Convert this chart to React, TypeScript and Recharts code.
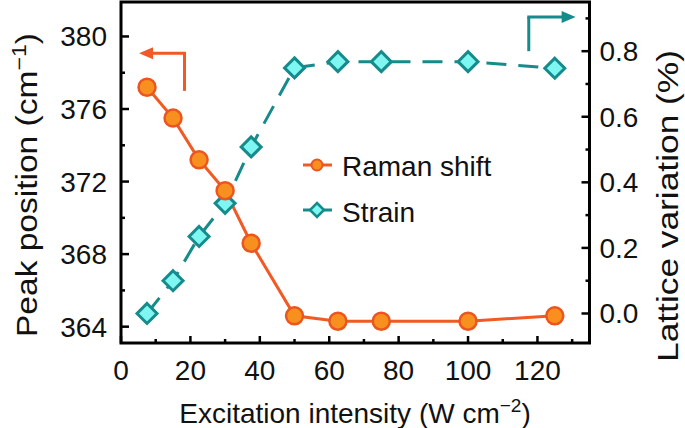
import React from 'react';
import { LineChart, Line, XAxis, YAxis, ReferenceArea, ReferenceLine, Legend } from 'recharts';

const FONT = '"Liberation Sans", Arial, Helvetica, sans-serif';

// Data
const intensity = [7.5, 15, 22.5, 30, 37.5, 50, 62.5, 75, 100, 125];
const ramanShift = [377.2, 375.5, 373.2, 371.5, 368.6, 364.6, 364.3, 364.3, 364.3, 364.6];
const strainPct = [0.0, 0.1, 0.235, 0.336, 0.508, 0.749, 0.768, 0.768, 0.768, 0.748];

const xTicks = [0, 10, 20, 30, 40, 50, 60, 70, 80, 90, 100, 110, 120, 130];
const leftTicks = [364, 366, 368, 370, 372, 374, 376, 378, 380];
const rightTicks = [0, 0.1, 0.2, 0.3, 0.4, 0.5, 0.6, 0.7, 0.8, 0.9];

const xDomain = [0, 135];
const leftDomain = [363.1, 381.9];
const rightDomain = [-0.09, 0.95];

// arrow annotations (data coordinates)
const ramanArrowUp = [{ x: 18.3, y: 377.0 }, { x: 18.3, y: 379.08 }];
const ramanArrowLeft = [{ x: 18.3, y: 379.08 }, { x: 5.2, y: 379.08 }];
const strainArrowUp = [{ x: 117.5, y: 0.8 }, { x: 117.5, y: 0.904 }];
const strainArrowRight = [{ x: 117.5, y: 0.904 }, { x: 131, y: 0.904 }];

const data = intensity.map((x, i) => ({ x, raman: ramanShift[i], strain: strainPct[i] }));

const ORANGE_LINE = '#F05A24';
const ORANGE_FILL = '#F7901E';
const ORANGE_EDGE = '#EC5520';
const TEAL_LINE = '#178B8B';
const TEAL_FILL = '#7EF6F2';

const XTick = (props: any) => {
  const { x, y, payload } = props;
  const v = payload.value;
  const major = v % 20 === 0;
  return (
    <g>
      <line x1={x} x2={x} y1={y} y2={y - (major ? 7 : 4)} stroke="#000" strokeWidth={2.5} />
      {major && (
        <text x={x} y={y + 37} textAnchor="middle" fontFamily={FONT} fontSize={28} fill="#111">
          {v}
        </text>
      )}
    </g>
  );
};

const LeftTick = (props: any) => {
  const { x, y, payload } = props;
  const v = payload.value;
  const major = v % 4 === 0;
  return (
    <g>
      <line x1={x} x2={x + (major ? 8 : 4)} y1={y} y2={y} stroke="#000" strokeWidth={2.5} />
      {major && (
        <text x={x - 14} y={y + 10} textAnchor="end" fontFamily={FONT} fontSize={28} fill="#111">
          {v}
        </text>
      )}
    </g>
  );
};

const RightTick = (props: any) => {
  const { x, y, payload } = props;
  const v = payload.value;
  const major = Math.round(v * 10) % 2 === 0;
  return (
    <g>
      <line x1={x} x2={x - (major ? 8 : 4)} y1={y} y2={y} stroke="#000" strokeWidth={2.5} />
      {major && (
        <text x={x + 10} y={y + 10} textAnchor="start" fontFamily={FONT} fontSize={28} fill="#111">
          {v.toFixed(1)}
        </text>
      )}
    </g>
  );
};

const RamanDot = (props: any) => {
  const { cx, cy } = props;
  if (cx == null || cy == null) return null;
  return <circle cx={cx} cy={cy} r={8.5} fill={ORANGE_FILL} stroke={ORANGE_EDGE} strokeWidth={2.5} />;
};

const StrainDot = (props: any) => {
  const { cx, cy } = props;
  if (cx == null || cy == null) return null;
  const s = 10;
  return (
    <polygon
      points={`${cx},${cy - s} ${cx + s},${cy} ${cx},${cy + s} ${cx - s},${cy}`}
      fill={TEAL_FILL}
      stroke={TEAL_LINE}
      strokeWidth={3}
      strokeLinejoin="miter"
    />
  );
};

const makeSeg = (color: string, head: boolean) => (props: any) => {
  const { x1, y1, x2, y2 } = props;
  if (!head) {
    return <line x1={x1} y1={y1} x2={x2} y2={y2} stroke={color} strokeWidth={3} />;
  }
  const d = x2 > x1 ? 1 : -1;
  return (
    <g>
      <line x1={x1 - d * 1.5} y1={y1} x2={x2 - d * 10} y2={y2} stroke={color} strokeWidth={3} />
      <polygon points={`${x2},${y2} ${x2 - d * 14},${y2 - 6} ${x2 - d * 14},${y2 + 6}`} fill={color} />
    </g>
  );
};

const LeftTitle = (props: any) => (
  <text
    transform="translate(37,185) rotate(-90)"
    textAnchor="middle"
    fontFamily={FONT}
    fontSize={29}
    fill="#111"
    textLength={304}
    lengthAdjust="spacingAndGlyphs"
  >
    Peak position (cm
    <tspan dy={-11} fontSize={20}>−1</tspan>
    <tspan dy={11}>)</tspan>
  </text>
);

const RightTitle = (props: any) => (
  <text
    transform="translate(678,206) rotate(-90)"
    textAnchor="middle"
    fontFamily={FONT}
    fontSize={29}
    fill="#111"
    textLength={312}
    lengthAdjust="spacingAndGlyphs"
  >
    Lattice variation (%)
  </text>
);

const BottomTitle = (props: any) => (
  <text x={355} y={423} textAnchor="middle" fontFamily={FONT} fontSize={28} fill="#111">
    Excitation intensity (W cm
    <tspan dy={-11} fontSize={19}>−2</tspan>
    <tspan dy={11}>)</tspan>
  </text>
);

const LegendBox = () => (
  <svg width={220} height={100} style={{ display: 'block', overflow: 'visible' }}>
    <g>
      <line x1={3} x2={32} y1={25} y2={25} stroke={ORANGE_LINE} strokeWidth={3} />
      <circle cx={17} cy={25} r={5.5} fill={ORANGE_FILL} stroke={ORANGE_EDGE} strokeWidth={2} />
      <text x={42} y={36} fontFamily={FONT} fontSize={28} fill="#111">Raman shift</text>
    </g>
    <g>
      <line x1={3} x2={32} y1={70} y2={70} stroke={TEAL_LINE} strokeWidth={3} />
      <polygon points="17,63 24,70 17,77 10,70" fill={TEAL_FILL} stroke={TEAL_LINE} strokeWidth={2.5} />
      <text x={42} y={82} fontFamily={FONT} fontSize={28} fill="#111">Strain</text>
    </g>
  </svg>
);

export default function App() {
  return (
    <div style={{ position: 'absolute', left: 0, top: 0, width: 685, height: 428, background: '#fff' }}>
      <LineChart width={685} height={428} data={data} margin={{ top: 2, right: 0, bottom: 0, left: 0 }}>
        <XAxis
          dataKey="x"
          type="number"
          domain={xDomain}
          ticks={xTicks}
          interval={0}
          allowDataOverflow
          height={85}
          tickSize={0}
          tickMargin={0}
          axisLine={false}
          tickLine={false}
          tick={<XTick />}
          label={<BottomTitle />}
        />
        <YAxis
          yAxisId="left"
          orientation="left"
          type="number"
          domain={leftDomain}
          ticks={leftTicks}
          interval={0}
          allowDataOverflow
          width={121}
          tickSize={0}
          tickMargin={0}
          axisLine={false}
          tickLine={false}
          tick={<LeftTick />}
          label={<LeftTitle />}
        />
        <YAxis
          yAxisId="right"
          orientation="right"
          type="number"
          domain={rightDomain}
          ticks={rightTicks}
          interval={0}
          allowDataOverflow
          width={95.5}
          tickSize={0}
          tickMargin={0}
          axisLine={false}
          tickLine={false}
          tick={<RightTick />}
          label={<RightTitle />}
        />
        <ReferenceArea
          yAxisId="left"
          x1={xDomain[0]}
          x2={xDomain[1]}
          y1={leftDomain[0]}
          y2={leftDomain[1]}
          fill="none"
          stroke="#000"
          strokeWidth={3}
          ifOverflow="visible"
        />
        <ReferenceLine yAxisId="left" segment={ramanArrowUp} shape={makeSeg(ORANGE_LINE, false)} />
        <ReferenceLine yAxisId="left" segment={ramanArrowLeft} shape={makeSeg(ORANGE_LINE, true)} />
        <ReferenceLine yAxisId="right" segment={strainArrowUp} shape={makeSeg(TEAL_LINE, false)} />
        <ReferenceLine yAxisId="right" segment={strainArrowRight} shape={makeSeg(TEAL_LINE, true)} />
        <Line
          yAxisId="right"
          dataKey="strain"
          type="linear"
          stroke={TEAL_LINE}
          strokeWidth={3}
          strokeDasharray="20 12"
          dot={<StrainDot />}
          activeDot={false}
          isAnimationActive={false}
        />
        <Line
          yAxisId="left"
          dataKey="raman"
          type="linear"
          stroke={ORANGE_LINE}
          strokeWidth={3}
          dot={<RamanDot />}
          activeDot={false}
          isAnimationActive={false}
        />
        <Legend
          layout="horizontal"
          verticalAlign="middle"
          align="center"
          content={<LegendBox />}
          wrapperStyle={{ position: 'absolute', left: 300, top: 140, width: 220, height: 100 }}
        />
      </LineChart>
    </div>
  );
}
